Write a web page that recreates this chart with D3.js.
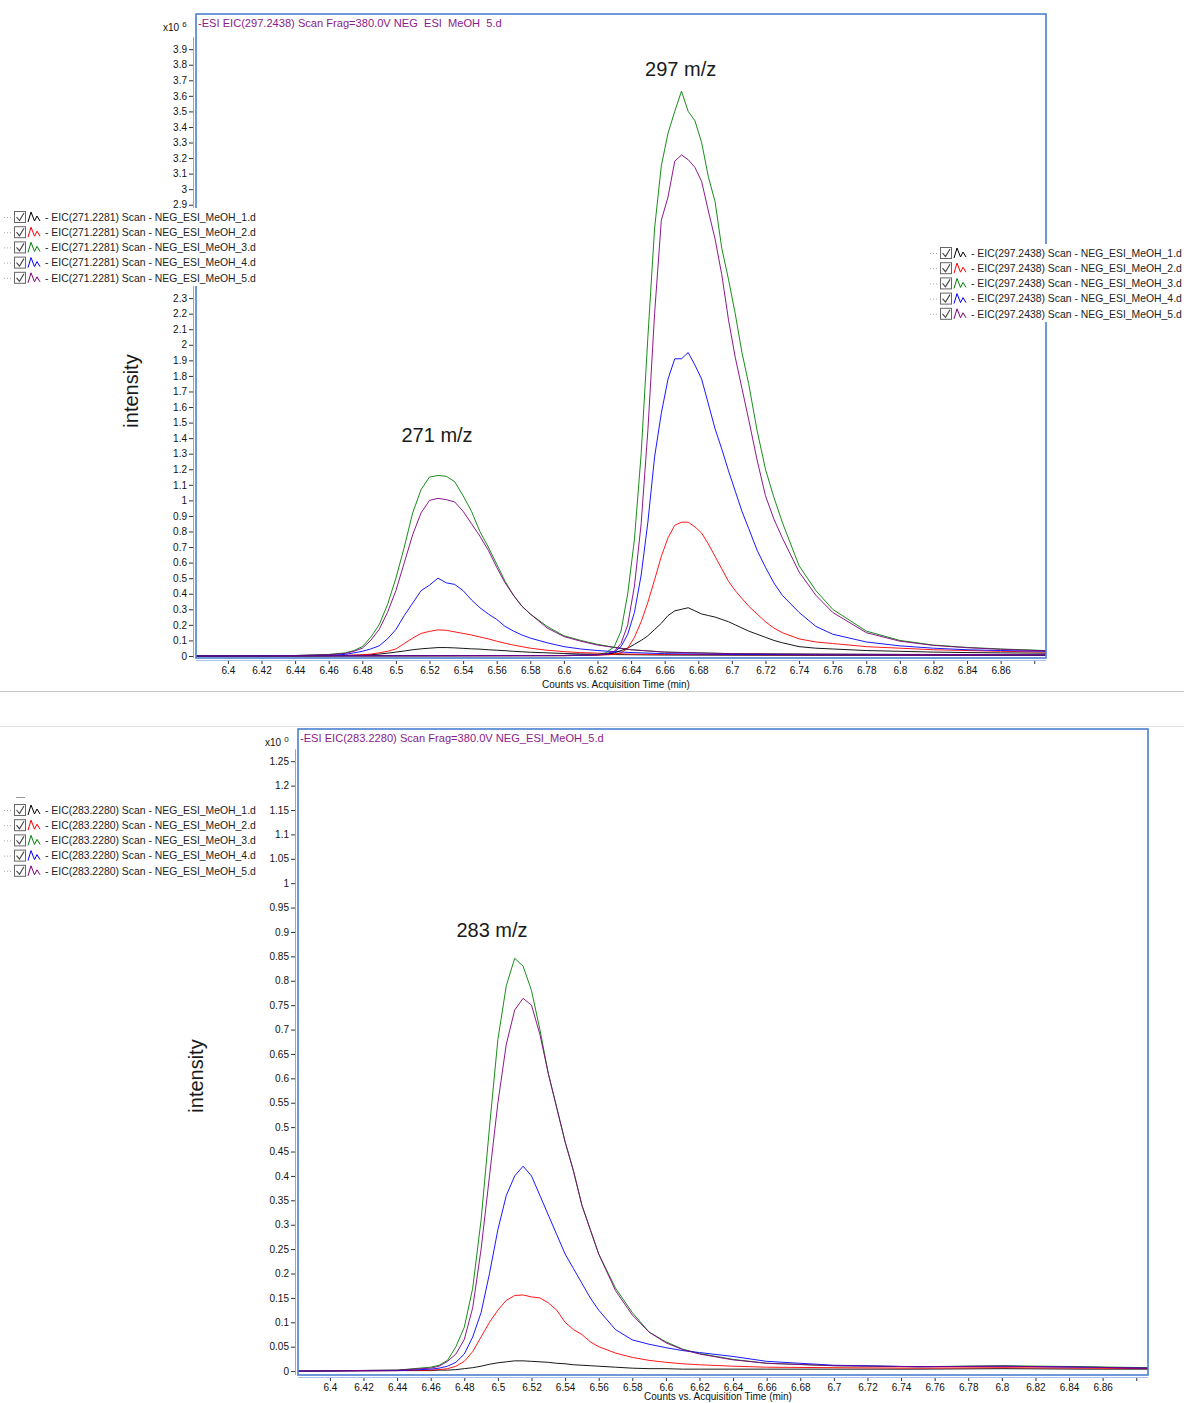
<!DOCTYPE html>
<html>
<head>
<meta charset="utf-8">
<script src="https://cdn.jsdelivr.net/npm/d3@7"></script>
<style>
  body { margin: 0; background: #fff; }
  svg text { font-family: "Liberation Sans", Arial, sans-serif; }
</style>
</head>
<body>
<div id="chart"></div>
<script>
// ---- data (intensities in axis units) ----
const sampleNames = ["NEG_ESI_MeOH_1.d", "NEG_ESI_MeOH_2.d", "NEG_ESI_MeOH_3.d", "NEG_ESI_MeOH_4.d", "NEG_ESI_MeOH_5.d"];
const seriesColors = ["#000000", "#ff0000", "#008000", "#0000ff", "#800080"];

const xTicks = [6.4, 6.42, 6.44, 6.46, 6.48, 6.5, 6.52, 6.54, 6.56, 6.58, 6.6, 6.62, 6.64,
  6.66, 6.68, 6.7, 6.72, 6.74, 6.76, 6.78, 6.8, 6.82, 6.84, 6.86, 6.88];
const yTicksTop = [0, 0.1, 0.2, 0.3, 0.4, 0.5, 0.6, 0.7, 0.8, 0.9, 1, 1.1, 1.2, 1.3, 1.4, 1.5, 1.6, 1.7,
  1.8, 1.9, 2, 2.1, 2.2, 2.3, 2.4, 2.5, 2.6, 2.7, 2.8, 2.9, 3, 3.1, 3.2, 3.3, 3.4, 3.5, 3.6, 3.7, 3.8, 3.9];
const yTicksBottom = [0, 0.05, 0.1, 0.15, 0.2, 0.25, 0.3, 0.35, 0.4, 0.45, 0.5, 0.55, 0.6, 0.65, 0.7,
  0.75, 0.8, 0.85, 0.9, 0.95, 1, 1.05, 1.1, 1.15, 1.2, 1.25];

// EIC 271.2281
const t271 = [6.381, 6.44, 6.46, 6.47, 6.475, 6.48, 6.485, 6.49, 6.495, 6.50, 6.505, 6.51, 6.515, 6.52, 6.525,
  6.53, 6.535, 6.54, 6.545, 6.55, 6.555, 6.56, 6.565, 6.57, 6.575, 6.58, 6.59, 6.60, 6.61, 6.62, 6.63, 6.64,
  6.66, 6.70, 6.75, 6.80, 6.887];
const black271 = [0, 0.001, 0.002, 0.003, 0.004, 0.006, 0.008, 0.012, 0.018, 0.025, 0.032, 0.04, 0.046, 0.05, 0.054,
  0.054, 0.052, 0.049, 0.046, 0.044, 0.04, 0.037, 0.034, 0.03, 0.027, 0.024, 0.02, 0.016, 0.013, 0.011, 0.009, 0.008,
  0.006, 0.005, 0.004, 0.004, 0.003];
const red271 = [0, 0.001, 0.002, 0.004, 0.006, 0.008, 0.012, 0.02, 0.03, 0.045, 0.08, 0.115, 0.145, 0.158, 0.168,
  0.165, 0.155, 0.145, 0.135, 0.122, 0.11, 0.095, 0.082, 0.07, 0.06, 0.05, 0.037, 0.028, 0.022, 0.018, 0.015, 0.012,
  0.01, 0.008, 0.007, 0.006, 0.005];
const green271 = [0, 0.003, 0.01, 0.02, 0.035, 0.06, 0.12, 0.2, 0.33, 0.5, 0.7, 0.92, 1.07, 1.15, 1.16,
  1.155, 1.12, 1.03, 0.93, 0.8, 0.7, 0.59, 0.48, 0.39, 0.32, 0.27, 0.19, 0.13, 0.1, 0.075, 0.055, 0.04,
  0.025, 0.015, 0.012, 0.01, 0.008];
const blue271 = [0, 0.002, 0.005, 0.01, 0.02, 0.03, 0.045, 0.065, 0.11, 0.17, 0.26, 0.34, 0.42, 0.455, 0.5,
  0.47, 0.46, 0.42, 0.36, 0.31, 0.27, 0.235, 0.19, 0.16, 0.135, 0.115, 0.085, 0.06, 0.045, 0.035, 0.028, 0.022,
  0.015, 0.01, 0.008, 0.007, 0.006];
const purple271 = [0, 0.003, 0.008, 0.017, 0.03, 0.05, 0.1, 0.17, 0.28, 0.42, 0.6, 0.78, 0.92, 1.0, 1.013,
  1.005, 0.99, 0.93, 0.85, 0.77, 0.68, 0.57, 0.47, 0.39, 0.32, 0.27, 0.18, 0.125, 0.095, 0.07, 0.055, 0.04,
  0.025, 0.015, 0.012, 0.01, 0.008];

// EIC 297.2438
const t297 = [6.381, 6.60, 6.62, 6.625, 6.63, 6.634, 6.638, 6.642, 6.646, 6.65, 6.654, 6.658, 6.662, 6.666, 6.67,
  6.674, 6.678, 6.682, 6.686, 6.69, 6.694, 6.698, 6.702, 6.706, 6.71, 6.715, 6.72, 6.725, 6.73, 6.74, 6.75, 6.76,
  6.78, 6.80, 6.82, 6.84, 6.86, 6.887];
const black297 = [0, 0.002, 0.006, 0.01, 0.02, 0.035, 0.05, 0.075, 0.1, 0.13, 0.17, 0.21, 0.26, 0.29, 0.3,
  0.31, 0.29, 0.27, 0.26, 0.25, 0.235, 0.22, 0.2, 0.18, 0.16, 0.14, 0.12, 0.1, 0.085, 0.06, 0.05, 0.045,
  0.035, 0.03, 0.025, 0.022, 0.02, 0.018];
const red297 = [0, 0.002, 0.005, 0.007, 0.01, 0.02, 0.05, 0.12, 0.22, 0.345, 0.49, 0.64, 0.76, 0.84, 0.86,
  0.86, 0.83, 0.79, 0.72, 0.64, 0.56, 0.48, 0.42, 0.37, 0.32, 0.27, 0.22, 0.18, 0.15, 0.11, 0.09, 0.08,
  0.06, 0.05, 0.04, 0.035, 0.03, 0.025];
const green297 = [0, 0.003, 0.01, 0.02, 0.06, 0.16, 0.4, 0.75, 1.3, 2.05, 2.75, 3.15, 3.36, 3.5, 3.63,
  3.5, 3.44, 3.3, 3.08, 2.92, 2.62, 2.42, 2.2, 1.95, 1.75, 1.45, 1.2, 1.02, 0.86, 0.58, 0.42, 0.3,
  0.16, 0.1, 0.07, 0.055, 0.045, 0.035];
const blue297 = [0, 0.003, 0.008, 0.012, 0.025, 0.06, 0.14, 0.28, 0.52, 0.86, 1.28, 1.56, 1.78, 1.91, 1.91,
  1.95, 1.87, 1.78, 1.62, 1.46, 1.33, 1.19, 1.06, 0.93, 0.82, 0.68, 0.57, 0.47, 0.39, 0.28, 0.19, 0.14,
  0.09, 0.065, 0.05, 0.04, 0.035, 0.03];
const purple297 = [0, 0.003, 0.008, 0.015, 0.03, 0.08, 0.2, 0.45, 0.85, 1.45, 2.2, 2.8, 2.95, 3.18, 3.22,
  3.19, 3.14, 3.05, 2.86, 2.68, 2.45, 2.16, 1.92, 1.72, 1.52, 1.26, 1.03, 0.88, 0.76, 0.54, 0.39, 0.28,
  0.15, 0.095, 0.068, 0.053, 0.043, 0.033];

// EIC 283.2280
const t283 = [6.381, 6.44, 6.46, 6.465, 6.47, 6.475, 6.48, 6.485, 6.49, 6.495, 6.50, 6.505, 6.51, 6.515, 6.52,
  6.525, 6.53, 6.535, 6.54, 6.545, 6.55, 6.555, 6.56, 6.57, 6.58, 6.59, 6.60, 6.61, 6.62, 6.64, 6.66, 6.70,
  6.75, 6.80, 6.85, 6.887];
const black283 = [0, 0.001, 0.001, 0.002, 0.002, 0.003, 0.005, 0.007, 0.01, 0.014, 0.017, 0.019, 0.021, 0.021, 0.02,
  0.019, 0.018, 0.016, 0.015, 0.013, 0.012, 0.011, 0.01, 0.008, 0.006, 0.005, 0.005, 0.004, 0.004, 0.004, 0.004, 0.004,
  0.004, 0.005, 0.004, 0.004];
const red283 = [0, 0.001, 0.002, 0.003, 0.005, 0.01, 0.02, 0.04, 0.07, 0.1, 0.125, 0.145, 0.155, 0.156, 0.152,
  0.15, 0.14, 0.125, 0.1, 0.085, 0.075, 0.06, 0.05, 0.037, 0.028, 0.022, 0.018, 0.015, 0.013, 0.01, 0.008, 0.007,
  0.006, 0.007, 0.006, 0.005];
const green283 = [0, 0.002, 0.008, 0.012, 0.022, 0.05, 0.09, 0.17, 0.31, 0.5, 0.68, 0.79, 0.846, 0.83, 0.78,
  0.7, 0.61, 0.54, 0.47, 0.41, 0.34, 0.29, 0.24, 0.17, 0.12, 0.08, 0.06, 0.045, 0.036, 0.024, 0.016, 0.011,
  0.009, 0.011, 0.009, 0.007];
const blue283 = [0, 0.001, 0.004, 0.006, 0.01, 0.018, 0.035, 0.07, 0.12, 0.2, 0.29, 0.36, 0.4, 0.42, 0.4,
  0.36, 0.32, 0.28, 0.24, 0.21, 0.18, 0.15, 0.125, 0.085, 0.064, 0.055, 0.048, 0.042, 0.038, 0.03, 0.02, 0.012,
  0.009, 0.01, 0.008, 0.006];
const purple283 = [0, 0.002, 0.006, 0.01, 0.02, 0.035, 0.065, 0.13, 0.25, 0.4, 0.55, 0.67, 0.74, 0.764, 0.75,
  0.69, 0.61, 0.54, 0.47, 0.41, 0.34, 0.29, 0.24, 0.165, 0.115, 0.08, 0.058, 0.044, 0.035, 0.023, 0.016, 0.011,
  0.009, 0.01, 0.008, 0.006];

// ---- page ----
const width = 1184, height = 1403;
const svg = d3.select("#chart").append("svg")
  .attr("width", width)
  .attr("height", height);

const fmt = d => String(+d.toFixed(2));
const zipSeries = (times, vals) => times.map((t, i) => [t, vals[i]]);

// separators between the two screenshots
svg.append("line").attr("x1", 0).attr("x2", width).attr("y1", 691.5).attr("y2", 691.5).attr("stroke", "#c8c8c8");
svg.append("line").attr("x1", 0).attr("x2", width).attr("y1", 726.5).attr("y2", 726.5).attr("stroke", "#e4e4e4");

function drawPanel(p) {
  const g = svg.append("g");
  const x = d3.scaleLinear().domain([6.381, 6.887]).range([p.left, p.right]);
  const y = d3.scaleLinear().domain(p.yDomain).range([p.bottom, p.top]);

  // y axis (ticks sitting under a legend box are hidden in the original)
  const hidden = p.hideY || [];
  const shownTicks = p.yTicks.filter(v => !hidden.some(([a, b]) => y(v) > a && y(v) < b));
  const ya = g.append("g")
    .attr("transform", `translate(${p.left - 3},0)`)
    .call(d3.axisLeft(y).tickValues(shownTicks).tickSize(4).tickPadding(2).tickFormat(fmt));
  ya.select(".domain").remove();
  ya.selectAll("line").attr("stroke", "#333");
  ya.selectAll("text").attr("font-size", 10).attr("fill", "#111");
  g.append("line")
    .attr("x1", p.left - 2.5).attr("x2", p.left - 2.5)
    .attr("y1", y(p.yTicks[p.yTicks.length - 1]) - 12).attr("y2", p.bottom)
    .attr("stroke", "#9aa8bd");

  // x axis
  const xa = g.append("g")
    .attr("transform", `translate(0,${p.bottom + 2})`)
    .call(d3.axisBottom(x).tickValues(xTicks).tickSize(4).tickPadding(3)
      .tickFormat(d => d === 6.88 ? "" : fmt(d)));
  xa.select(".domain").remove();
  xa.selectAll("line").attr("stroke", "#333");
  xa.selectAll("text").attr("font-size", 10).attr("fill", "#111");

  g.append("text")
    .attr("x", (p.left + p.right) / 2 - 5).attr("y", p.bottom + p.xTitleDy)
    .attr("text-anchor", "middle").attr("font-size", 10).attr("fill", "#111")
    .text("Counts vs. Acquisition Time (min)");

  // traces
  const clipId = "clip" + p.id;
  g.append("clipPath").attr("id", clipId)
    .append("rect").attr("x", p.left).attr("y", p.top).attr("width", p.right - p.left).attr("height", p.bottom - p.top);

  const line = d3.line().x(d => x(d[0])).y(d => y(d[1]));
  g.append("g").attr("clip-path", `url(#${clipId})`)
    .selectAll("path")
    .data(p.series)
    .join("path")
    .attr("d", d => line(d.points))
    .attr("fill", "none")
    .attr("stroke", d => d.color)
    .attr("stroke-width", 1)
    .attr("stroke-opacity", 0.9);

  // frame
  g.append("rect")
    .attr("x", p.left).attr("y", p.top)
    .attr("width", p.right - p.left).attr("height", p.bottom - p.top)
    .attr("fill", "none").attr("stroke", "#4a7fd0").attr("stroke-width", 1.6);
  g.append("line")
    .attr("x1", p.left).attr("x2", p.right).attr("y1", p.bottom + 2.5).attr("y2", p.bottom + 2.5)
    .attr("stroke", "#a9c3ea").attr("stroke-width", 1);

  // chart title and multiplier
  g.append("text")
    .attr("x", p.left + 2).attr("y", p.top + 13)
    .attr("font-size", 11.1).attr("fill", "#8b1a8b")
    .attr("xml:space", "preserve").style("white-space", "pre")
    .text(p.title);
  const mult = g.append("text")
    .attr("x", p.left - 33).attr("y", p.top + 17)
    .attr("font-size", 10).attr("fill", "#111");
  mult.append("tspan").text("x10");
  mult.append("tspan").attr("dx", 3).attr("dy", -4).attr("font-size", 8).text(p.exponent);

  // intensity label
  g.append("text")
    .attr("transform", `translate(${p.yLabelX},${p.yLabelY}) rotate(-90)`)
    .attr("text-anchor", "middle")
    .attr("font-family", "Lato, 'Open Sans', sans-serif")
    .attr("font-size", 20).attr("fill", "#1a1a1a")
    .text("intensity");

  // peak annotations
  p.peaks.forEach(pk => {
    g.append("text")
      .attr("x", x(pk.t)).attr("y", y(pk.v))
      .attr("text-anchor", "middle")
      .attr("font-family", "Lato, 'Open Sans', sans-serif")
      .attr("font-size", 20).attr("fill", "#1a1a1a")
      .text(pk.label);
  });
  return { x, y };
}

function drawLegend(lx, ly, mass) {
  const rowH = 15.2;
  const g = svg.append("g").attr("transform", `translate(${lx},${ly})`);
  g.append("rect").attr("x", 0).attr("y", -9).attr("width", 262).attr("height", rowH * 5 + 2).attr("fill", "#fff");
  sampleNames.forEach((name, i) => {
    const r = g.append("g").attr("transform", `translate(0,${i * rowH})`);
    r.append("line").attr("x1", 4).attr("x2", 13).attr("y1", 0.5).attr("y2", 0.5)
      .attr("stroke", "#aaa").attr("stroke-dasharray", "1,2");
    r.append("rect").attr("x", 14.5).attr("y", -5.5).attr("width", 11).attr("height", 11)
      .attr("fill", "#fff").attr("stroke", "#666");
    r.append("path").attr("d", "M16.5,0 L19.5,3.5 L24,-4")
      .attr("fill", "none").attr("stroke", "#444").attr("stroke-width", 1.1);
    r.append("path").attr("d", "M28,5 L31,-5 L34.5,4 L37,-1 L40,4")
      .attr("fill", "none").attr("stroke", seriesColors[i]).attr("stroke-width", 1);
    r.append("text").attr("x", 45).attr("y", 3.7)
      .attr("font-size", 10.4).attr("fill", "#222")
      .text(`- EIC(${mass}) Scan - ${name}`);
  });
  return g;
}

const topSeries = [black271, red271, green271, blue271, purple271].map((v, i) => ({ color: seriesColors[i], points: zipSeries(t271, v) }))
  .concat([black297, red297, green297, blue297, purple297].map((v, i) => ({ color: seriesColors[i], points: zipSeries(t297, v) })));

drawPanel({
  id: "top",
  left: 196, right: 1046, top: 14, bottom: 658,
  yDomain: [-0.013, 4.126],
  yTicks: yTicksTop,
  hideY: [[208, 290]],
  series: topSeries,
  title: "-ESI EIC(297.2438) Scan Frag=380.0V NEG  ESI  MeOH  5.d",
  exponent: "6",
  xTitleDy: 30,
  yLabelX: 138, yLabelY: 391,
  peaks: [{ label: "297 m/z", t: 6.6695, v: 3.73 }, { label: "271 m/z", t: 6.5245, v: 1.375 }]
});

const bottomSeries = [black283, red283, green283, blue283, purple283].map((v, i) => ({ color: seriesColors[i], points: zipSeries(t283, v) }));

drawPanel({
  id: "bottom",
  left: 298, right: 1148, top: 729, bottom: 1375,
  yDomain: [-0.008, 1.316],
  yTicks: yTicksBottom,
  series: bottomSeries,
  title: "-ESI EIC(283.2280) Scan Frag=380.0V NEG_ESI_MeOH_5.d",
  exponent: "0",
  xTitleDy: 25,
  yLabelX: 203, yLabelY: 1076,
  peaks: [{ label: "283 m/z", t: 6.4965, v: 0.89 }]
});

drawLegend(0, 217, "271.2281");
drawLegend(926, 253, "297.2438");
const lb = drawLegend(0, 810, "283.2280");
lb.append("line").attr("x1", 16).attr("x2", 25).attr("y1", -12.5).attr("y2", -12.5).attr("stroke", "#999");
</script>
</body>
</html>
